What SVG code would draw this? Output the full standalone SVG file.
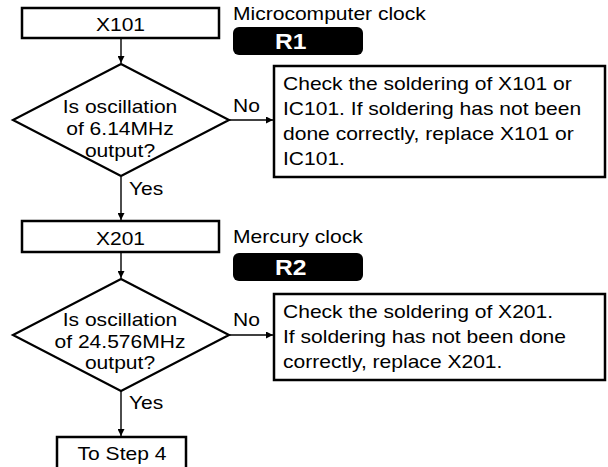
<svg xmlns="http://www.w3.org/2000/svg" width="608" height="467" viewBox="0 0 608 467">
<style>
.t{font-family:"Liberation Sans",Arial,Helvetica,sans-serif;font-size:18.8px;fill:#000}
.m{text-anchor:middle}
.b{font-family:"Liberation Sans",Arial,Helvetica,sans-serif;font-size:22px;font-weight:bold;fill:#fff}
.box{fill:#fff;stroke:#000;stroke-width:2.5}
.dia{fill:#fff;stroke:#000;stroke-width:2.2}
.badge{fill:#000}
.ln{stroke:#000;stroke-width:1.4;fill:none}
</style>
<defs>
<marker id="ah" viewBox="0 0 10 10" refX="10" refY="5" markerWidth="7" markerHeight="7" markerUnits="userSpaceOnUse" orient="auto">
<path d="M0,0 L10,5 L0,10 z" fill="#000"/>
</marker>
</defs>
<rect width="608" height="467" fill="#fff"/>
<g id="connectors">
<line class="ln" x1="121" y1="39" x2="121" y2="63" marker-end="url(#ah)"/>
<line class="ln" x1="229" y1="120" x2="273" y2="120" marker-end="url(#ah)"/>
<line class="ln" x1="121" y1="177" x2="121" y2="220" marker-end="url(#ah)"/>
<line class="ln" x1="121" y1="253" x2="121" y2="278" marker-end="url(#ah)"/>
<line class="ln" x1="229" y1="335" x2="273" y2="335" marker-end="url(#ah)"/>
<line class="ln" x1="121" y1="391" x2="121" y2="436" marker-end="url(#ah)"/>
<text class="t" transform="translate(233 0) scale(1.12 1)" x="0" y="112">No</text>
<text class="t" transform="translate(129 0) scale(1.12 1)" x="0" y="195">Yes</text>
<text class="t" transform="translate(233 0) scale(1.12 1)" x="0" y="326">No</text>
<text class="t" transform="translate(129 0) scale(1.12 1)" x="0" y="409">Yes</text>
</g>
<g id="x101">
<rect class="box" x="22" y="8" width="197" height="30"/>
<text class="t m" transform="translate(120.5 0) scale(1.12 1)" x="0" y="31">X101</text>
</g>
<g id="label-r1">
<text class="t" transform="translate(233 0) scale(1.12 1)" x="0" y="20">Microcomputer clock</text>
<rect class="badge" x="233" y="27" width="130" height="28" rx="6"/>
<text class="b" transform="translate(275 0) scale(1.12 1)" x="0" y="49">R1</text>
</g>
<g id="decision1">
<polygon class="dia" points="121,64 229,120 121,176 13,120"/>
<text class="t m" transform="translate(120 0) scale(1.12 1)" x="0" y="113">Is oscillation</text>
<text class="t m" transform="translate(120 0) scale(1.12 1)" x="0" y="135">of 6.14MHz</text>
<text class="t m" transform="translate(120 0) scale(1.12 1)" x="0" y="157">output?</text>
</g>
<g id="check1">
<rect class="box" x="274" y="66" width="331" height="111"/>
<text class="t" transform="translate(283 0) scale(1.12 1)" x="0" y="90">Check the soldering of X101 or</text>
<text class="t" transform="translate(283 0) scale(1.12 1)" x="0" y="115">IC101. If soldering has not been</text>
<text class="t" transform="translate(283 0) scale(1.12 1)" x="0" y="140">done correctly, replace X101 or</text>
<text class="t" transform="translate(283 0) scale(1.12 1)" x="0" y="165">IC101.</text>
</g>
<g id="x201">
<rect class="box" x="22" y="221" width="197" height="31"/>
<text class="t m" transform="translate(120.5 0) scale(1.12 1)" x="0" y="245">X201</text>
</g>
<g id="label-r2">
<text class="t" transform="translate(233 0) scale(1.12 1)" x="0" y="243">Mercury clock</text>
<rect class="badge" x="233" y="253" width="130" height="28" rx="6"/>
<text class="b" transform="translate(275 0) scale(1.12 1)" x="0" y="275">R2</text>
</g>
<g id="decision2">
<polygon class="dia" points="121,279 229,335 121,391 13,335"/>
<text class="t m" transform="translate(120 0) scale(1.12 1)" x="0" y="326">Is oscillation</text>
<text class="t m" transform="translate(120 0) scale(1.12 1)" x="0" y="348">of 24.576MHz</text>
<text class="t m" transform="translate(120 0) scale(1.12 1)" x="0" y="369">output?</text>
</g>
<g id="check2">
<rect class="box" x="274" y="294" width="331" height="86"/>
<text class="t" transform="translate(283 0) scale(1.12 1)" x="0" y="318">Check the soldering of X201.</text>
<text class="t" transform="translate(283 0) scale(1.12 1)" x="0" y="343">If soldering has not been done</text>
<text class="t" transform="translate(283 0) scale(1.12 1)" x="0" y="368">correctly, replace X201.</text>
</g>
<g id="step4">
<rect class="box" x="57" y="437" width="129" height="34"/>
<text class="t m" transform="translate(122 0) scale(1.12 1)" x="0" y="460">To Step 4</text>
</g>
</svg>
